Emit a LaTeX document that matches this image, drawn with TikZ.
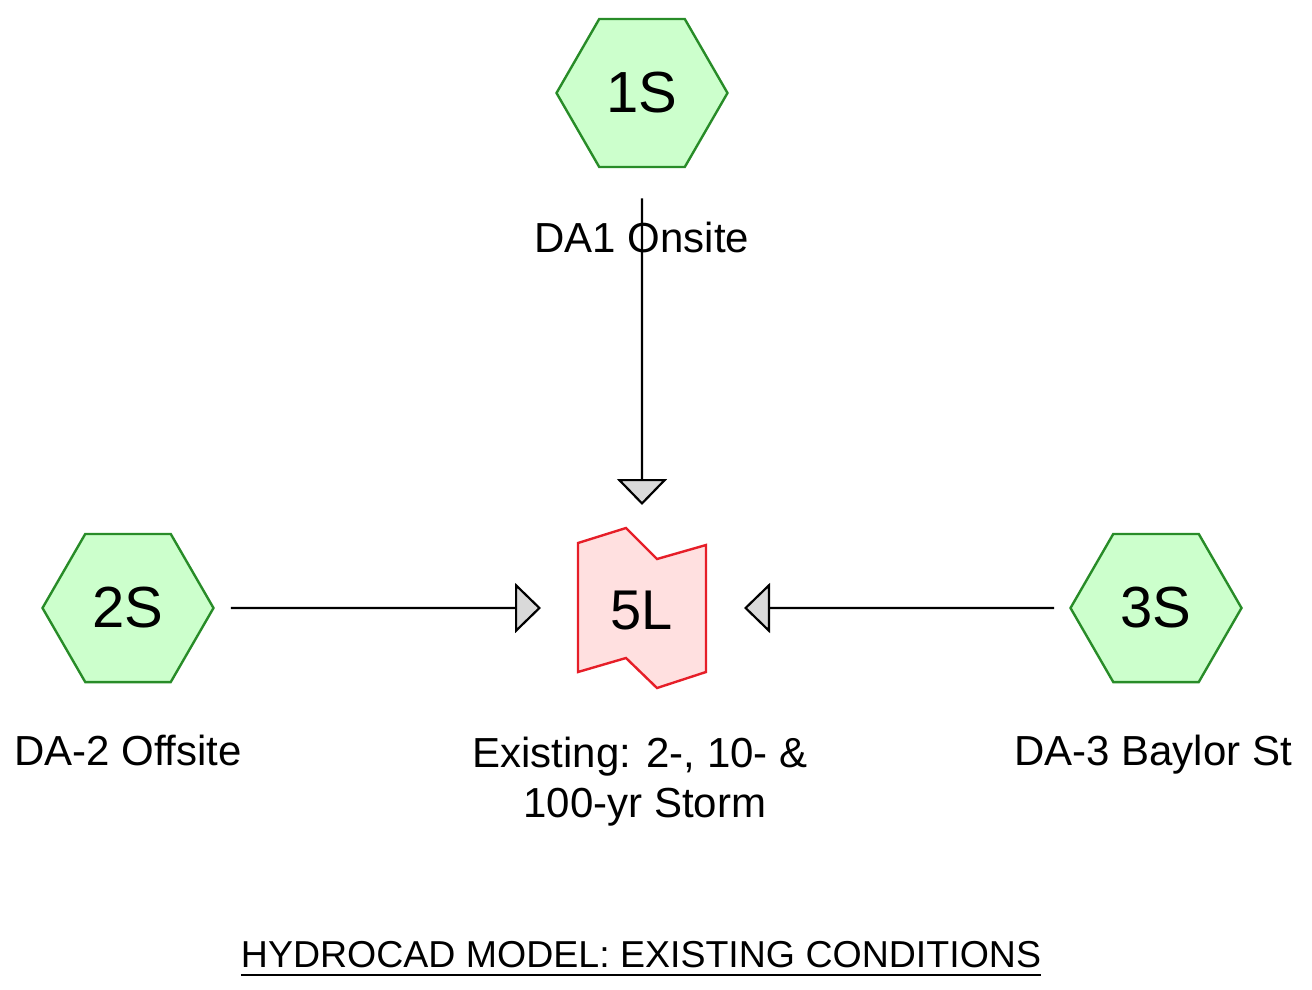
\documentclass[tikz,border=0pt]{standalone}
\usepackage{fontspec}
\setmainfont{Liberation Sans}
\usetikzlibrary{shapes.geometric,arrows.meta,calc}
\definecolor{hexfill}{RGB}{204,255,204}
\definecolor{hexline}{RGB}{40,140,40}
\definecolor{pondfill}{RGB}{255,224,224}
\definecolor{pondline}{RGB}{230,30,40}
\definecolor{tipfill}{RGB}{217,217,217}
\tikzset{
  hexnode/.style={regular polygon, regular polygon sides=6, minimum size=171pt, inner sep=0pt,
    draw=hexline, fill=hexfill, line width=2.4pt, font=\fontsize{58}{60}\selectfont},
  lbl/.style={font=\fontsize{42}{50}\selectfont, anchor=base, inner sep=0pt, align=center},
  flow/.style={line width=2.2pt, -{Triangle[length=26pt,width=50pt,fill=tipfill]}},
  pondshape/.style={draw=pondline, fill=pondfill, line width=2.4pt, line join=miter}
}
\begin{document}
\begin{tikzpicture}[x=1pt,y=-1pt]
\useasboundingbox (0,0) rectangle (1312,990);
% nodes
\node[hexnode] (h1) at (642,93) {1S};
\node[hexnode] (h2) at (128,608) {2S};
\node[hexnode] (h3) at (1156,608) {3S};
\draw[pondshape] (578,543) -- (626,528) -- (657,559) -- (706,545) -- (706,672) -- (657,688) -- (626,658) -- (578,672) -- cycle;
\node[font=\fontsize{56}{60}\selectfont, inner sep=0pt] (pond) at (642,611) {5L};
% labels
\node[lbl] (l1) at (642,252) {DA1 Onsite};
\node[lbl] (l2) at (128,765) {DA-2 Offsite};
\node[lbl] (l3) at (1153,765) {DA-3 Baylor St};
\node[lbl] (l5) at (645,817) {Existing: 2-, 10- \&\hspace*{10pt}\\100-yr Storm};
% connectors
\coordinate (s1) at ($(h1.south)+(0,30)$);
\coordinate (e1) at (642,505);
\coordinate (s2) at ($(h2.east)+(16,0)$);
\coordinate (e2) at (541,608);
\coordinate (s3) at ($(h3.west)+(-15,0)$);
\coordinate (e3) at (744,608);
\draw[flow] (s1) -- (e1);
\draw[flow] (s2) -- (e2);
\draw[flow] (s3) -- (e3);
% title
\node[font=\fontsize{37.5}{45}\selectfont, anchor=base, inner sep=0pt] (title) at (641,967) {HYDROCAD MODEL: EXISTING CONDITIONS};
\draw[line width=2pt] ($(title.base west)+(0,8)$) -- ($(title.base east)+(0,8)$);
\end{tikzpicture}
\end{document}
